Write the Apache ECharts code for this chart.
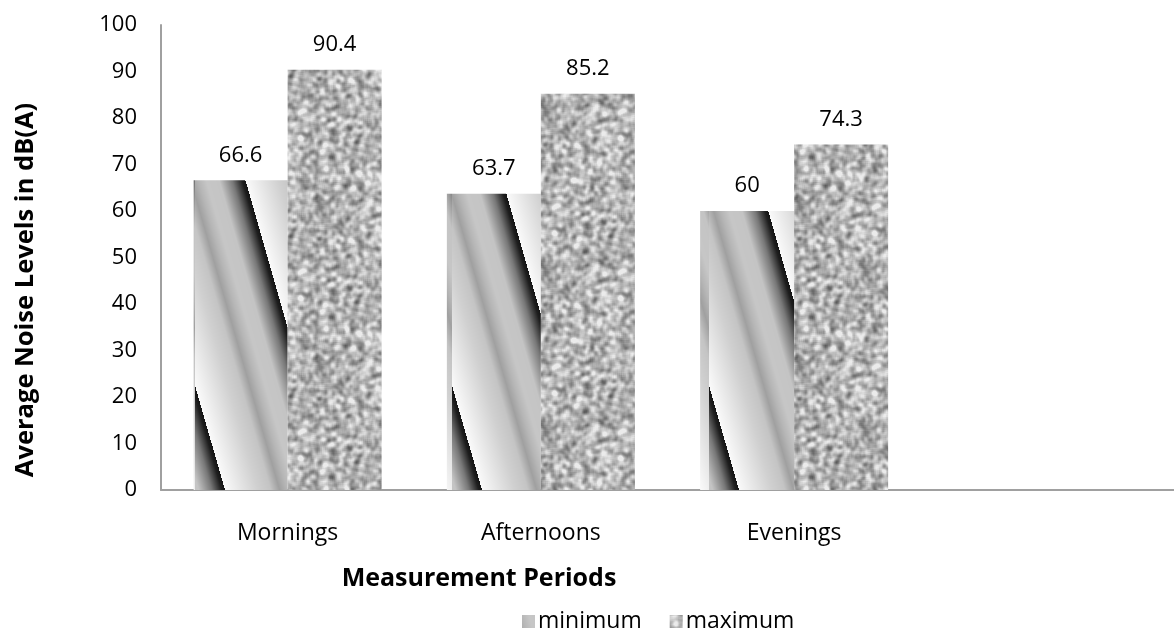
<!DOCTYPE html>
<html><head><meta charset="utf-8">
<script src="https://cdn.jsdelivr.net/npm/echarts@6/dist/echarts.min.js"></script>
<style>html,body{margin:0;padding:0;background:#fff}#c{width:1174px;height:628px}</style>
</head><body><div id="c"></div>
<script>
// ---- data ----
const categories = ['Mornings', 'Afternoons', 'Evenings', ''];
const minimumValues = [66.6, 63.7, 60, '-'];
const maximumValues = [90.4, 85.2, 74.3, '-'];
const seriesNames = ['minimum', 'maximum'];
const yAxisTitle = 'Average Noise Levels in dB(A)';
const xAxisTitle = 'Measurement Periods';

const FONT = '"Open Sans", "Noto Sans", sans-serif';

// ---- textures (styling only) ----
function makeStripePattern() {
  const W = 257, H = 628;
  const c = document.createElement('canvas'); c.width = W; c.height = H;
  const ctx = c.getContext('2d');
  const img = ctx.createImageData(W, H);
  const nx = 0.9613, ny = -0.2755, P = 105;
  const stops = [[0, 250], [0.3, 208], [0.42, 196], [0.5, 160], [0.57, 182], [0.64, 198], [0.76, 196], [0.88, 120], [0.97, 30], [1, 20]];
  function prof(s) {
    for (let i = 1; i < stops.length; i++) {
      if (s <= stops[i][0]) {
        const a = stops[i - 1], b = stops[i];
        return a[1] + (b[1] - a[1]) * (s - a[0]) / (b[0] - a[0]);
      }
    }
    return 20;
  }
  for (let y = 0; y < H; y++) {
    for (let x = 0; x < W; x++) {
      const xr = (x - 195 + 257) % 257;
      const t = (xr - 50) * nx + (y - 180) * ny;
      let s = (t / P) % 1; if (s < 0) s += 1;
      const v = prof(s);
      const k = (y * W + x) * 4;
      img.data[k] = img.data[k + 1] = img.data[k + 2] = v; img.data[k + 3] = 255;
    }
  }
  ctx.putImageData(img, 0, 0);
  return c;
}
function makeNoisePattern() {
  const N = 160;
  let seed = 12345;
  function rnd() { seed = (seed * 1103515245 + 12345) & 0x7fffffff; return seed / 0x7fffffff; }
  let a = new Float32Array(N * N);
  for (let i = 0; i < N * N; i++) a[i] = rnd();
  function blur(src, r) {
    const out = new Float32Array(N * N);
    for (let y = 0; y < N; y++) for (let x = 0; x < N; x++) {
      let s = 0, n = 0;
      for (let dy = -r; dy <= r; dy++) for (let dx = -r; dx <= r; dx++) {
        s += src[((y + dy + N) % N) * N + ((x + dx + N) % N)]; n++;
      }
      out[y * N + x] = s / n;
    }
    return out;
  }
  a = blur(a, 1); a = blur(a, 2);
  let mean = 0; for (let i = 0; i < N * N; i++) mean += a[i]; mean /= N * N;
  let varr = 0; for (let i = 0; i < N * N; i++) varr += (a[i] - mean) ** 2; const sd = Math.sqrt(varr / (N * N));
  const c = document.createElement('canvas'); c.width = N; c.height = N;
  const ctx = c.getContext('2d');
  const img = ctx.createImageData(N, N);
  for (let i = 0; i < N * N; i++) {
    let v = 180 + (a[i] - mean) / sd * 27;
    v = Math.max(80, Math.min(235, v));
    img.data[i * 4] = img.data[i * 4 + 1] = img.data[i * 4 + 2] = v; img.data[i * 4 + 3] = 255;
  }
  ctx.putImageData(img, 0, 0);
  return c;
}
const stripeFill = { image: makeStripePattern(), repeat: 'repeat' };
const noiseFill = { image: makeNoisePattern(), repeat: 'repeat' };

const labelStyle = { show: true, position: 'top', distance: 14, fontSize: 22, color: '#000', fontFamily: FONT };

const chart = echarts.init(document.getElementById('c'), null, { renderer: 'canvas' });
chart.setOption({
  backgroundColor: '#fff',
  animation: false,
  grid: { left: 161, top: 25, width: 1028, height: 465 },
  xAxis: {
    type: 'category', data: categories,
    axisLine: { show: true, lineStyle: { color: '#a0a0a0', width: 2 } },
    axisTick: { show: false },
    axisLabel: { fontSize: 23, color: '#000', fontFamily: FONT, margin: 32 }
  },
  yAxis: {
    type: 'value', min: 0, max: 100, interval: 10,
    axisLine: { show: true, lineStyle: { color: '#a0a0a0', width: 2 } },
    axisTick: { show: false },
    splitLine: { show: false },
    axisLabel: { fontSize: 22, color: '#000', fontFamily: FONT, margin: 24 }
  },
  legend: {
    data: seriesNames, left: 517, top: 605, itemWidth: 13, itemHeight: 13, itemGap: 28,
    icon: 'rect',
    textStyle: { fontSize: 23, color: '#000', fontFamily: FONT, padding: [0, 0, 0, -2] }
  },
  graphic: [{
    type: 'text', x: 479, y: 579,
    style: { text: xAxisTitle, textAlign: 'center', textVerticalAlign: 'middle', fontSize: 25, fontWeight: 'bold', fontFamily: FONT, fill: '#000' }
  }, {
    type: 'text', x: 26, y: 290, rotation: Math.PI / 2,
    style: { text: yAxisTitle, textAlign: 'center', textVerticalAlign: 'middle', fontSize: 25.5, fontWeight: 'bold', fontFamily: FONT, fill: '#000' }
  }],
  series: [
    { name: seriesNames[0], type: 'bar', data: minimumValues, barWidth: 94, barGap: '0%', itemStyle: { color: stripeFill }, label: labelStyle },
    { name: seriesNames[1], type: 'bar', data: maximumValues, barWidth: 94, barGap: '0%', itemStyle: { color: noiseFill }, label: labelStyle }
  ]
});
</script></body></html>
